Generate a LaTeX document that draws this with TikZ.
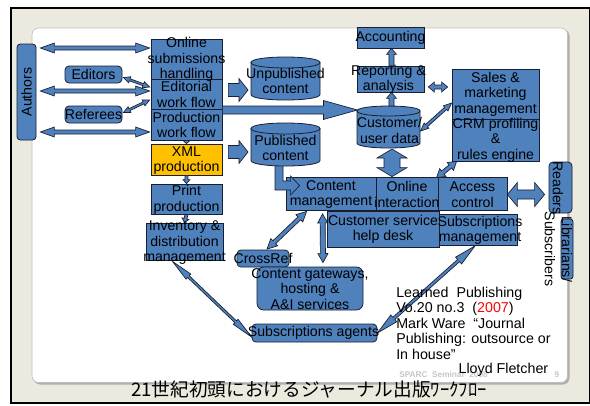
\documentclass[tikz,border=0pt]{standalone}
\usepackage{fontspec}
\setmainfont{Liberation Sans}
\newfontfamily\cjkfont{Noto Sans CJK JP}
\usetikzlibrary{calc}
\definecolor{boxblue}{RGB}{79,129,189}
\definecolor{xmlyellow}{RGB}{255,192,0}
\definecolor{beigebg}{RGB}{236,233,222}
\definecolor{edgecol}{RGB}{25,30,50}
\definecolor{shadowgray}{RGB}{175,175,175}

\tikzset{
  box/.style={draw=edgecol, fill=boxblue, line width=0.6pt, inner sep=0pt},
  rbox/.style={box, rounded corners=3pt},
  txt/.style={align=center, inner sep=0pt, text=black, font=\fontsize{10.6}{11.6}\selectfont},
  arr/.style={draw=edgecol, fill=boxblue, line width=0.5pt, line join=miter},
  cyl/.style={draw=edgecol, fill=boxblue, line width=0.6pt},
}

% double-headed block arrow: start, end, shaft half width, head half width, head length
\newcommand\DblArr[5]{%
  \filldraw[arr] let \p1=#1, \p2=#2, \n1={atan2(\y2-\y1,\x2-\x1)} in
  (\p1) -- ($(\p1)+(\n1:#5)+(\n1+90:#4)$) -- ($(\p1)+(\n1:#5)+(\n1+90:#3)$)
  -- ($(\p2)+(\n1:-#5)+(\n1+90:#3)$) -- ($(\p2)+(\n1:-#5)+(\n1+90:#4)$) -- (\p2)
  -- ($(\p2)+(\n1:-#5)+(\n1-90:#4)$) -- ($(\p2)+(\n1:-#5)+(\n1-90:#3)$)
  -- ($(\p1)+(\n1:#5)+(\n1-90:#3)$) -- ($(\p1)+(\n1:#5)+(\n1-90:#4)$) -- cycle;}
% single-headed block arrow: tail, tip, shaft half width, head half width, head length
\newcommand\SglArr[5]{%
  \filldraw[arr] let \p1=#1, \p2=#2, \n1={atan2(\y2-\y1,\x2-\x1)} in
  ($(\p1)+(\n1+90:#3)$) -- ($(\p2)+(\n1:-#5)+(\n1+90:#3)$) -- ($(\p2)+(\n1:-#5)+(\n1+90:#4)$)
  -- (\p2) -- ($(\p2)+(\n1:-#5)+(\n1-90:#4)$) -- ($(\p2)+(\n1:-#5)+(\n1-90:#3)$)
  -- ($(\p1)+(\n1-90:#3)$) -- cycle;}
% cylinder: name, cx, cy, half width, half height, ellipse half height (px units)
\newcommand\Cyl[6]{%
  \coordinate (#1) at (#2,#3);
  \filldraw[cyl] (#2-#4,#3-#5+#6) -- (#2-#4,#3+#5-#6)
    .. controls (#2-#4,#3+#5+0.333*#6) and (#2+#4,#3+#5+0.333*#6) .. (#2+#4,#3+#5-#6)
    -- (#2+#4,#3-#5+#6) -- cycle;
  \filldraw[cyl] (#2-#4,#3-#5+#6)
    .. controls (#2-#4,#3-#5-0.333*#6) and (#2+#4,#3-#5-0.333*#6) .. (#2+#4,#3-#5+#6)
    .. controls (#2+#4,#3-#5+2.333*#6) and (#2-#4,#3-#5+2.333*#6) .. (#2-#4,#3-#5+#6) -- cycle;}

\begin{document}
\begin{tikzpicture}[x=0.75pt, y=-0.75pt]
\useasboundingbox (0,0) rectangle (590,405);
% frame
\fill[white] (0,0) rectangle (590,405);
\filldraw[fill=beigebg, draw=black, line width=1.1pt] (11,8) rectangle (589.3,403);
\fill[shadowgray, rounded corners=5pt] (33.5,29.5) rectangle (569.5,384.5);
\filldraw[fill=white, draw=shadowgray!80, line width=0.5pt, rounded corners=5pt] (32,28) rectangle (567.5,382.5);

\node[font=\bfseries\fontsize{6.2}{7}\selectfont, text=black!22, anchor=west, inner sep=0pt] (sparc) at (399,375) {SPARC\ \ Seminar\ \ 2008};
\node[font=\bfseries\fontsize{6.2}{7}\selectfont, text=black!22, inner sep=0pt] (pageno) at (557,375) {9};

% left column
\node[box, rounded corners=2.5pt, minimum width=14.25pt, minimum height=72pt] (authors) at (26.5,92) {};
\node[box, minimum width=53.25pt, minimum height=30pt] (osh) at (186.5,59) {};
\node[box, minimum width=53.25pt, minimum height=22.5pt] (ewf) at (186.5,94) {};
\node[box, minimum width=53.25pt, minimum height=23.25pt] (pwf) at (186.5,124.5) {};
\node[box, fill=xmlyellow, minimum width=53.25pt, minimum height=23.25pt] (xml) at (186.5,159.5) {};
\node[box, minimum width=53.25pt, minimum height=22.5pt] (prt) at (186.5,199) {};
\node[box, minimum width=57.75pt, minimum height=27.75pt] (inv) at (184.5,241.5) {};
\node[rbox, minimum width=42.75pt, minimum height=12.75pt] (editors) at (93.5,74.5) {};
\node[rbox, minimum width=42.75pt, minimum height=12.75pt] (referees) at (93.5,114.5) {};

% right part
\node[box, minimum width=50.25pt, minimum height=15.75pt] (acc) at (390.5,37.5) {};
\node[box, minimum width=50.25pt, minimum height=19.5pt] (rep) at (390.5,79) {};
\node[box, minimum width=65.25pt, minimum height=37.5pt] (sales) at (495.5,94) {};
\node[box, minimum width=65.25pt, minimum height=31.5pt] (crm) at (495.5,140) {};
\node[box, minimum width=67.5pt, minimum height=24.75pt] (cm) at (331,193.5) {};
\node[box, minimum width=46.5pt, minimum height=24.75pt] (onl) at (407,193.5) {};
\node[box, minimum width=51.75pt, minimum height=24.75pt] (access) at (472.5,193.5) {};
\node[box, minimum width=84pt, minimum height=27pt] (csd) at (383,229) {};
\node[box, minimum width=58.5pt, minimum height=23.25pt] (subs) at (478,229.5) {};
\node[rbox, minimum width=17.25pt, minimum height=38.25pt] (readers) at (560.5,187.5) {};
\node[rbox, rounded corners=2pt, minimum width=9pt, minimum height=45pt] (libr) at (567,249) {};
\node[rbox, minimum width=39pt, minimum height=12.75pt] (crossref) at (263,258.5) {};
\node[rbox, rounded corners=5pt, minimum width=79.5pt, minimum height=32.25pt] (gw) at (310,288.5) {};
\node[rbox, minimum width=93.75pt, minimum height=13.5pt] (agents) at (314.5,333) {};

% bent arrow published -> content management
\filldraw[arr] (275,163) -- (283,163) -- (283,181) -- ($(cm.west)+(5,-12.5)$) -- ($(cm.west)+(5,-17.5)$)
  -- ($(cm.west)+(14,-8)$) -- ($(cm.west)+(5,1.5)$) -- ($(cm.west)+(5,-3.5)$) -- (275,190) -- cycle;

% cylinders
\Cyl{unpub}{285.5}{78.5}{34.5}{21.5}{5.5}
\Cyl{pub}{285.5}{144.5}{34.5}{21.5}{5.5}
\Cyl{cust}{388.5}{127}{31.5}{21}{5}

% arrows
\DblArr{($(authors.east)+(4,-44)$)}{($(osh.west)+(-1,-11)$)}{1.5pt}{3.75pt}{10.5pt}
\DblArr{($(authors.east)+(4,-1)$)}{($(ewf.west)+(-1,-3)$)}{1.5pt}{3.75pt}{10.5pt}
\DblArr{($(authors.east)+(4,40)$)}{($(pwf.west)+(-1,7.5)$)}{1.5pt}{3.75pt}{10.5pt}
\DblArr{($(editors.east)+(1,3)$)}{($(ewf.west)+(-1,-7)$)}{0.8pt}{2.4pt}{5pt}
\DblArr{($(referees.east)+(1,-2)$)}{($(ewf.west)+(-1,6)$)}{0.8pt}{2.4pt}{5pt}
\SglArr{($(ewf.east)+(6,-4)$)}{($(unpub)+(-37.5,11.5)$)}{4.9pt}{8.6pt}{6.8pt}
\SglArr{($(xml.east)+(6,-7.5)$)}{($(pub)+(-37.5,7.5)$)}{4.9pt}{8.6pt}{6.8pt}
\SglArr{($(pwf.east)+(0,-14.5)$)}{($(cust)+(-31,-17)$)}{3pt}{7.1pt}{25.5pt}
\SglArr{(pwf.south)}{(xml.north)}{1.1pt}{2.6pt}{2.3pt}
\SglArr{(xml.south)}{(prt.north)}{1.1pt}{2.6pt}{3pt}
\SglArr{(prt.south)}{(inv.north)}{1.1pt}{2.6pt}{3pt}
\SglArr{($(rep.north)+(1,0)$)}{($(acc.south)+(1,0)$)}{1.9pt}{3.75pt}{4.5pt}
\SglArr{($(cust)+(3,-21)$)}{($(rep.south)+(1,0)$)}{1.9pt}{3.75pt}{4.5pt}
\DblArr{($(cust)+(3.5,22)$)}{($(onl.north)+(-15,0)$)}{6pt}{11.25pt}{6.75pt}
\DblArr{($(cust)+(32,4)$)}{($(sales.west)+(0,9)$)}{1.1pt}{2.6pt}{6pt}
\DblArr{($(rep.east)+(4,8)$)}{($(sales.west)+(-4,-7)$)}{1.5pt}{3.75pt}{4.5pt}
\DblArr{($(crm.south west)+(5,0)$)}{($(access.north west)+(-1,1)$)}{1.5pt}{3.75pt}{6pt}
\DblArr{($(access.east)+(0,1)$)}{($(readers.west)+(-4,7)$)}{3.4pt}{9pt}{7.5pt}
\DblArr{($(cm.south west)+(21,1)$)}{($(crossref.north)+(4,-0.5)$)}{1.5pt}{3.75pt}{7.5pt}
\DblArr{($(cm.south west)+(37,3.5)$)}{($(gw.north)+(13,-4)$)}{1.9pt}{3.75pt}{6.75pt}
\DblArr{($(inv.south)+(-12,1)$)}{($(agents.west)+(0,4)$)}{0.9pt}{2.6pt}{16.5pt}
\DblArr{(agents.east)}{($(subs.south)+(-3,0.5)$)}{1.1pt}{3.4pt}{16.5pt}

% texts
\node[txt, rotate=90] (authors-t) at (authors) {Authors};
\node[txt] (osh-t) at ($(osh)+(0,0.5)$) {Online\\submissions\\handling};
\node[txt] (ewf-t) at ($(ewf)+(0,0.5)$) {Editorial\\work flow};
\node[txt] (pwf-t) at ($(pwf)+(0,0.5)$) {Production\\work flow};
\node[txt] (xml-t) at ($(xml)+(0,1)$) {XML\\production};
\node[txt] (prt-t) at ($(prt)+(0,1)$) {Print\\production};
\node[txt] (inv-t) at ($(inv)+(0,1.5)$) {Inventory \&\\distribution\\management};
\node[txt] (editors-t) at (editors) {Editors};
\node[txt] (referees-t) at (referees) {Referees};
\node[txt] (unpub-t) at ($(unpub)+(0,2.5)$) {Unpublished\\content};
\node[txt] (pub-t) at ($(pub)+(0,3.5)$) {Published\\content};
\node[txt] (cust-t) at ($(cust)+(1,3.5)$) {Customer/\\user data};
\node[txt] (acc-t) at (acc) {Accounting};
\node[txt] (rep-t) at ($(rep)+(-2,0.5)$) {Reporting \&\\analysis};
\node[txt] (sales-t) at (sales) {Sales \&\\marketing\\management};
\node[txt] (crm-t) at (crm) {CRM profiling\\\&\\rules engine};
\node[txt] (cm-t) at ($(cm)+(0,1)$) {Content\\management};
\node[txt] (onl-t) at ($(onl)+(0,1)$) {Online\\interaction};
\node[txt] (access-t) at ($(access)+(0,1)$) {Access\\control};
\node[txt] (csd-t) at ($(csd)+(0,0.5)$) {Customer service\\help desk};
\node[txt] (subs-t) at ($(subs)+(2,1)$) {Subscriptions\\management};
\node[txt, rotate=-90] (readers-t) at (558,188) {Readers};
\node[txt, rotate=-90, font=\fontsize{10.6}{12.8}\selectfont] (libr-t) at (558.5,249) {Librarians/\\Subscribers};
\node[txt] (crossref-t) at ($(crossref)+(0,0)$) {CrossRef};
\node[txt] (gw-t) at ($(gw)+(0,0.5)$) {Content gateways,\\hosting \&\\A\&I services};
\node[txt] (agents-t) at ($(agents)+(-1,0)$) {Subscriptions agents};

\node[txt, align=left, anchor=west, font=\fontsize{10.7}{11.6}\selectfont] (cite) at (396,323)
  {Learned\ \ Publishing\\Vo.20 no.3\ \ (\textcolor{red}{2007})\\Mark Ware\ \ “Journal\\Publishing: outsource or\\In house”};
\node[txt, anchor=east, font=\fontsize{10.7}{11.6}\selectfont] (author) at (548.5,370) {Lloyd Fletcher};

\node[font=\cjkfont\fontsize{14}{14}\selectfont, inner sep=0pt] (caption) at (309,389.5) {21世紀初頭におけるジャーナル出版ﾜｰｸﾌﾛｰ};
\end{tikzpicture}
\end{document}
